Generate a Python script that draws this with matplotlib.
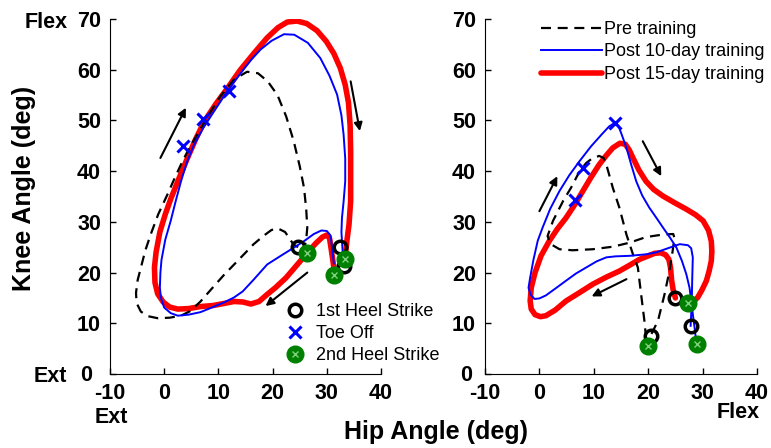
import matplotlib
matplotlib.use("Agg")
import matplotlib.pyplot as plt
from matplotlib.lines import Line2D

plt.rcParams['font.family'] = ['Liberation Sans', 'DejaVu Sans']
plt.rcParams['axes.unicode_minus'] = False

# ---------------- Left panel data (hip angle, knee angle) ----------------
L_pre_x = [24.7, 23.8, 23.2, 22.3, 21.0, 19.8, 18.4, 16.5, 14.8, 12.9, 11.0, 9.0, 6.7, 4.8, 3.1, 1.0, -1.2, -3.0, -4.3, -5.1, -5.2, -4.9, -4.3, -3.5, -2.5, -1.1, 0.6, 2.0, 3.4, 4.7, 6.1, 8.2, 10.4, 12.9, 15.3, 17.3, 19.1, 20.9, 22.5, 23.9, 25.0, 25.8, 26.2, 26.4, 26.2, 26.0, 26.3]
L_pre_y = [25.0, 25.6, 26.6, 28.0, 28.7, 28.4, 27.3, 25.6, 23.7, 21.6, 19.5, 17.1, 14.3, 12.4, 11.5, 11.1, 11.0, 11.4, 12.3, 14.0, 16.0, 18.5, 21.0, 24.3, 27.5, 31.5, 35.4, 38.8, 42.0, 44.7, 47.2, 51.1, 54.8, 58.1, 59.6, 59.3, 57.7, 55.0, 50.8, 45.9, 41.0, 36.7, 32.5, 28.9, 26.5, 25.5, 23.9]

L_10_x = [31.3, 31.0, 30.7, 30.0, 29.0, 27.6, 25.8, 23.9, 21.5, 19.0, 16.5, 14.5, 12.9, 11.0, 9.0, 6.7, 4.5, 2.5, 1.2, 0.0, -0.6, -0.8, -0.7, -0.5, 0.2, 1.2, 2.1, 3.1, 4.2, 5.5, 7.2, 9.2, 11.6, 14.1, 16.0, 17.8, 19.8, 22.1, 24.0, 26.5, 28.8, 30.5, 31.9, 32.7, 33.1, 33.4, 33.4, 33.1, 32.8, 32.7, 32.8, 33.1]
L_10_y = [21.8, 24.5, 27.3, 28.2, 28.3, 27.6, 26.2, 24.9, 23.3, 21.6, 18.6, 16.3, 15.1, 14.1, 13.2, 12.2, 11.7, 11.5, 12.0, 13.1, 15.0, 17.0, 20.0, 22.5, 26.5, 30.2, 34.0, 38.0, 41.8, 45.2, 48.5, 51.8, 55.7, 59.3, 61.9, 64.0, 65.7, 67.0, 66.9, 65.3, 62.3, 58.8, 55.1, 51.0, 47.2, 42.5, 38.0, 34.0, 30.8, 28.0, 26.2, 21.3]

L_15_x = [31.3, 30.9, 30.5, 30.0, 29.2, 28.0, 26.4, 24.5, 22.5, 20.5, 19.0, 17.5, 16.0, 14.5, 12.9, 11.0, 9.0, 6.7, 4.5, 2.5, 1.0, -0.2, -1.2, -1.7, -1.8, -1.5, -0.8, 0.2, 1.2, 2.7, 4.3, 5.8, 7.4, 9.5, 11.7, 14.0, 16.6, 19.0, 21.0, 22.7, 24.5, 26.3, 28.2, 29.9, 31.3, 32.5, 33.4, 34.0, 34.3, 34.4, 34.4, 34.4, 34.1, 33.7, 33.4]
L_15_y = [21.0, 24.0, 26.8, 27.4, 27.0, 25.8, 23.9, 21.5, 19.0, 17.0, 15.7, 14.3, 13.8, 14.2, 14.3, 13.9, 13.5, 13.3, 12.9, 12.8, 13.2, 14.2, 15.8, 18.0, 21.0, 24.0, 28.0, 31.5, 34.5, 38.5, 42.6, 46.3, 49.8, 53.2, 56.4, 59.9, 63.3, 66.3, 68.3, 69.4, 69.6, 69.1, 67.7, 65.6, 63.2, 60.3, 57.0, 53.5, 49.0, 43.9, 39.0, 34.1, 29.5, 26.2, 23.0]

L_hs1_x = [24.7, 32.5, 33.1]
L_hs1_y = [25.0, 25.0, 21.3]
L_toe_x = [3.4, 7.1, 11.9]
L_toe_y = [44.9, 50.2, 55.9]
L_hs2_x = [26.3, 31.3, 33.4]
L_hs2_y = [23.9, 19.5, 22.6]

# ---------------- Right panel data (hip angle, knee angle) ----------------
R_pre_x = [20.6, 21.8, 23.0, 23.9, 24.5, 24.8, 24.6, 22.7, 19.6, 16.6, 13.5, 9.8, 6.1, 3.7, 2.1, 1.5, 2.5, 4.4, 5.8, 7.4, 8.6, 9.8, 11.0, 11.8, 12.3, 13.5, 14.7, 16.0, 17.2, 18.1, 18.7, 19.3, 19.6, 20.0]
R_pre_y = [7.9, 10.5, 15.7, 20.3, 24.3, 26.9, 27.6, 27.5, 27.0, 25.9, 25.1, 24.6, 24.4, 24.6, 25.6, 27.2, 30.2, 34.2, 36.7, 40.0, 41.6, 42.6, 43.0, 42.6, 41.3, 36.7, 32.8, 27.5, 23.6, 21.0, 15.7, 10.5, 7.2, 5.5]

R_10_x = [27.8, 28.0, 28.1, 28.2, 27.9, 27.3, 25.8, 23.9, 21.5, 19.6, 16.6, 14.0, 12.3, 10.5, 8.6, 6.7, 4.9, 3.0, 1.2, 0.0, -0.9, -1.6, -2.0, -1.7, -1.1, -0.3, 0.6, 2.0, 3.7, 5.5, 7.4, 9.5, 11.5, 12.8, 13.8, 14.5, 15.1, 16.0, 16.9, 17.8, 18.9, 20.2, 21.5, 22.7, 24.0, 25.2, 26.2, 27.0, 27.6, 27.9, 28.3, 28.6, 28.8]
R_10_y = [9.5, 14.0, 19.0, 23.0, 24.8, 25.4, 25.6, 24.9, 24.0, 23.6, 23.3, 23.2, 23.0, 22.2, 21.0, 19.8, 18.4, 16.9, 15.5, 14.9, 14.8, 15.6, 17.0, 19.0, 22.5, 26.3, 28.9, 32.6, 36.1, 39.2, 42.0, 44.9, 47.3, 48.8, 49.5, 49.0, 47.3, 44.6, 41.2, 38.0, 35.2, 32.8, 30.8, 28.9, 26.9, 24.9, 22.3, 19.7, 17.0, 14.4, 11.0, 8.5, 6.5]

R_15_x = [25.0, 24.6, 24.3, 24.1, 23.8, 23.2, 22.3, 21.2, 19.8, 18.4, 16.5, 14.7, 12.3, 9.8, 7.3, 4.9, 2.9, 1.2, 0.2, -0.8, -1.5, -1.7, -1.5, -0.8, 0.3, 1.8, 3.3, 4.9, 6.5, 8.0, 9.5, 11.0, 12.3, 13.5, 14.8, 15.8, 16.5, 17.2, 18.3, 19.6, 21.0, 22.7, 24.8, 27.0, 28.7, 30.1, 31.1, 31.6, 31.7, 31.6, 31.2, 30.7, 29.9, 29.1, 28.3, 27.9]
R_15_y = [15.0, 16.5, 18.5, 21.0, 22.6, 23.5, 23.9, 23.8, 23.2, 22.6, 21.4, 20.3, 19.1, 17.7, 16.0, 14.4, 12.6, 11.5, 11.3, 11.7, 12.8, 14.4, 17.0, 20.0, 23.3, 26.2, 28.6, 30.8, 33.4, 36.1, 38.8, 41.3, 43.1, 44.6, 45.5, 45.3, 44.2, 42.6, 40.2, 38.0, 36.4, 35.1, 33.8, 32.5, 31.4, 30.2, 28.3, 26.2, 24.2, 22.3, 20.3, 18.4, 16.6, 15.1, 14.3, 14.1]

R_hs1_x = [20.6, 25.0, 27.8]
R_hs1_y = [7.5, 15.0, 9.5]
R_toe_x = [6.6, 8.0, 13.9]
R_toe_y = [34.4, 40.7, 49.5]
R_hs2_x = [20.0, 27.4, 29.0]
R_hs2_y = [5.5, 14.0, 6.0]

xticks = [-10, 0, 10, 20, 30, 40]
yticks = [0, 10, 20, 30, 40, 50, 60, 70]
ytick_labels = ['', '10', '20', '30', '40', '50', '60', '70']

legend_lines = ["Pre training", "Post 10-day training", "Post 15-day training"]
legend_markers = ["1st Heel Strike", "Toe Off", "2nd Heel Strike"]

W, H = 771, 448
fig = plt.figure(figsize=(W / 100, H / 100), dpi=100)

def px_axes(x0, x1, y_top, y_bot):
    return fig.add_axes([x0 / W, 1 - y_bot / H, (x1 - x0) / W, (y_bot - y_top) / H])

axL = px_axes(110, 381, 19, 374)
axR = px_axes(485, 757, 19, 374)

GREEN = '#008000'

def green_marker(ax, xs, ys):
    ax.plot(xs, ys, linestyle='none', marker='o', markersize=12, mfc=GREEN, mec=GREEN, zorder=6)
    ax.plot(xs, ys, linestyle='none', marker='x', markersize=5, mec='#7fd07f', mew=1.0, zorder=7)

def panel(ax, pre_x, pre_y, x10, y10, x15, y15, hs1x, hs1y, tox, toy, hs2x, hs2y, zero_shift):
    l1, = ax.plot(pre_x, pre_y, color='black', linestyle=(0, (4.5, 3)), lw=1.6, zorder=3)
    l2, = ax.plot(x10, y10, color='#0000ff', lw=1.4, zorder=4, solid_joinstyle='round')
    l3, = ax.plot(x15, y15, color='#ff0000', lw=4.0, zorder=2, solid_capstyle='round', solid_joinstyle='round')
    m1, = ax.plot(hs1x, hs1y, linestyle='none', marker='o', markersize=9, mfc='none', mec='black', mew=2.5, zorder=5)
    m2, = ax.plot(tox, toy, linestyle='none', marker='x', markersize=8, mec='#0000ff', mew=2.2, zorder=8)
    green_marker(ax, hs2x, hs2y)
    ax.set_xlim(-10, 40)
    ax.set_ylim(0, 70)
    ax.set_xticks(xticks)
    ax.set_yticks(yticks)
    ax.set_yticklabels(ytick_labels)
    ax.spines['top'].set_visible(False)
    ax.spines['right'].set_visible(False)
    ax.tick_params(direction='in', length=4, width=1, labelsize=15.5)
    ax.tick_params(axis='y', pad=6.5)
    ax.tick_params(axis='x', pad=6.5)
    for lab in ax.get_xticklabels() + ax.get_yticklabels():
        lab.set_fontweight('bold')
    # the zero label of the knee axis sits a little further from the axis
    ax.annotate('0', xy=(0, 0), xycoords='axes fraction', xytext=(-zero_shift, -1),
                textcoords='offset pixels', ha='right', va='center',
                fontsize=15.5, fontweight='bold')
    return l1, l2, l3, m1, m2

def arrow(ax, x0, y0, x1, y1):
    ax.annotate('', xy=(x1, y1), xytext=(x0, y0),
                arrowprops=dict(arrowstyle='-|>', color='black', lw=1.5, mutation_scale=12, shrinkA=0, shrinkB=0))

l1, l2, l3, m1, m2 = panel(axL, L_pre_x, L_pre_y, L_10_x, L_10_y, L_15_x, L_15_y,
                           L_hs1_x, L_hs1_y, L_toe_x, L_toe_y, L_hs2_x, L_hs2_y, 18)
panel(axR, R_pre_x, R_pre_y, R_10_x, R_10_y, R_15_x, R_15_y,
      R_hs1_x, R_hs1_y, R_toe_x, R_toe_y, R_hs2_x, R_hs2_y, 13)

arrow(axL, -0.7, 42.6, 4.0, 52.5)
arrow(axL, 34.4, 57.7, 36.1, 47.9)
arrow(axL, 26.4, 20.0, 18.7, 13.4)
arrow(axR, 0.0, 32.1, 3.3, 39.0)
arrow(axR, 19.0, 45.9, 22.4, 39.0)
arrow(axR, 16.0, 18.7, 9.6, 15.3)

# Marker legend (left panel)
hs2_handle = (Line2D([], [], linestyle='none', marker='o', markersize=12, mfc=GREEN, mec=GREEN),
              Line2D([], [], linestyle='none', marker='x', markersize=5, mec='#7fd07f', mew=1.0))
axL.legend([m1, m2, hs2_handle], legend_markers, loc='upper left',
           bbox_to_anchor=((286 - 110) / 271, (374 - 303) / 355), frameon=False,
           fontsize=13, handlelength=1.0, handletextpad=0.65, labelspacing=0.28,
           borderpad=0, borderaxespad=0)

# Line legend (right panel)
axR.legend([l1, l2, l3], legend_lines, loc='upper left',
           bbox_to_anchor=((541 - 485) / 272, (374 - 21) / 355), frameon=False,
           fontsize=13, handlelength=3.4, handletextpad=0.1, labelspacing=0.3,
           borderpad=0, borderaxespad=0)

# Annotations
bold = dict(fontweight='bold', color='black')
fig.text(25 / W, 1 - 22 / H, 'Flex', fontsize=15.5, ha='left', va='center', **bold)
fig.text(34 / W, 1 - 377 / H, 'Ext', fontsize=15.5, ha='left', va='center', **bold)
fig.text(95 / W, 1 - 417 / H, 'Ext', fontsize=15.5, ha='left', va='center', **bold)
fig.text(717 / W, 1 - 412 / H, 'Flex', fontsize=15.5, ha='left', va='center', **bold)
fig.text(436 / W, 1 - 432 / H, 'Hip Angle (deg)', fontsize=18, ha='center', va='center', **bold)
fig.text(24 / W, 1 - 188 / H, 'Knee Angle (deg)', fontsize=18, ha='center', va='center', rotation=90, **bold)

fig.savefig('out.png', dpi=100)
